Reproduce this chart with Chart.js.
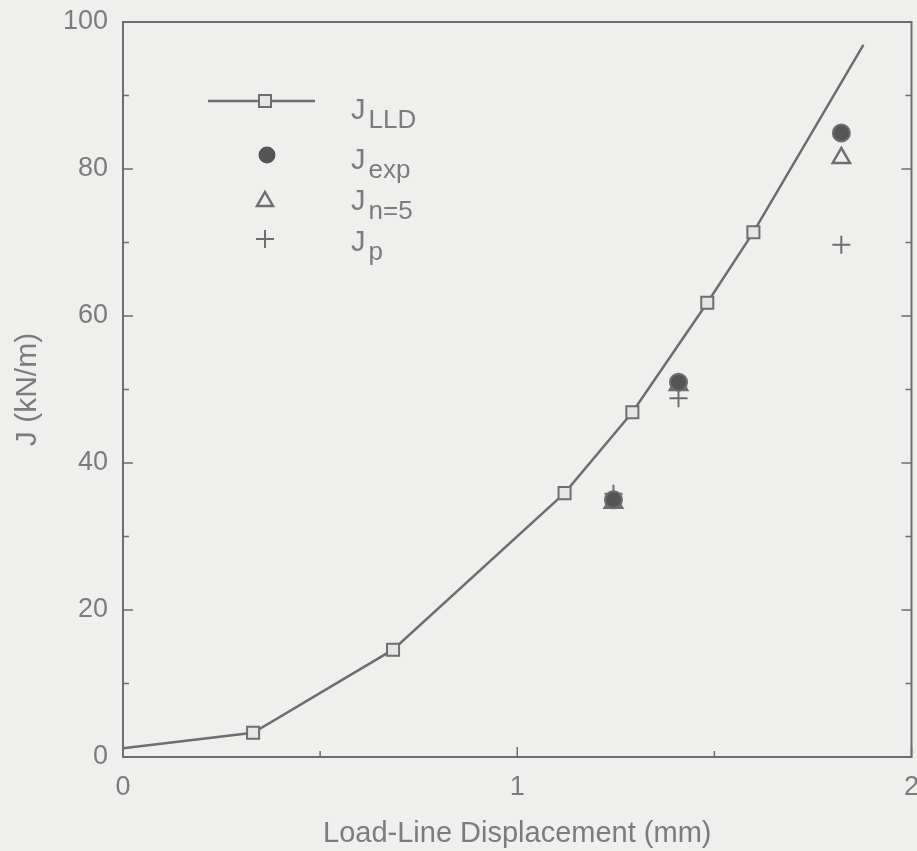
<!DOCTYPE html>
<html>
<head>
<meta charset="utf-8">
<script src="https://cdn.jsdelivr.net/npm/chart.js@4/dist/chart.umd.min.js"></script>
<style>
    html, body { margin: 0; padding: 0; background: #efefed; overflow: hidden; }
    #page { width: 917px; height: 851px; overflow: hidden; }
    #wrap { width: 924px; height: 851px; position: relative; }
    #chart { display: block; }
</style>
</head>
<body>
<div id="page"><div id="wrap"><canvas id="chart"></canvas></div></div>
<script>
// J_LLD curve (load-line displacement in mm, J in kN/m)
const dispLLD = [0, 0.33, 0.685, 1.12, 1.292, 1.482, 1.599, 1.878];
const jLLD = [1.2, 3.3, 14.6, 35.9, 46.9, 61.8, 71.4, 96.9];

// measured / estimated points
const dispPoints = [1.244, 1.409, 1.822];
const jExp = [35.0, 51.0, 84.9];
const jN5 = [34.6, 50.6, 81.5];
const jP = [35.8, 48.8, 69.7];

const xTickLabels = ["0", "1", "2"];
const yTickLabels = ["0", "20", "40", "60", "80", "100"];

const ink = "#6e6e6e";
const textInk = "#7c7c7c";
const fontFamily = "'Liberation Sans', Arial, sans-serif";

function toPoints(xs, ys) {
    return xs.map((x, i) => ({ x: x, y: ys[i] }));
}

// inward ticks, frame box and the legend drawn over the plot
const framePlugin = {
    id: "frame",
    afterDraw(chart) {
        const ctx = chart.ctx;
        const area = chart.chartArea;
        const xs = chart.scales.x;
        const ys = chart.scales.y;

        ctx.save();
        ctx.strokeStyle = ink;
        ctx.lineWidth = 2;
        ctx.strokeRect(area.left, area.top, area.right - area.left, area.bottom - area.top);

        ctx.lineWidth = 1.5;
        xs.ticks.forEach(t => {
            let px = xs.getPixelForValue(t.value);
            let len = Number.isInteger(t.value) ? 10 : 6;
            ctx.beginPath();
            ctx.moveTo(px, area.bottom);
            ctx.lineTo(px, area.bottom - len);
            ctx.stroke();
        });
        ys.ticks.forEach(t => {
            let py = ys.getPixelForValue(t.value);
            let len = t.value % 20 === 0 ? 10 : 6;
            ctx.beginPath();
            ctx.moveTo(area.left, py);
            ctx.lineTo(area.left + len, py);
            ctx.moveTo(area.right, py);
            ctx.lineTo(area.right - len, py);
            ctx.stroke();
        });

        // legend
        const mx = 265;
        ctx.lineWidth = 2.5;
        ctx.beginPath();
        ctx.moveTo(208, 101);
        ctx.lineTo(315, 101);
        ctx.stroke();
        ctx.fillStyle = "#e6e6e4";
        ctx.lineWidth = 2;
        ctx.fillRect(mx - 6, 95, 12, 12);
        ctx.strokeRect(mx - 6, 95, 12, 12);

        ctx.fillStyle = "#555";
        ctx.beginPath();
        ctx.arc(mx + 2, 155, 8.5, 0, Math.PI * 2);
        ctx.fill();

        ctx.lineWidth = 2.5;
        ctx.beginPath();
        ctx.moveTo(mx, 192);
        ctx.lineTo(mx + 8, 206);
        ctx.lineTo(mx - 8, 206);
        ctx.closePath();
        ctx.stroke();

        ctx.lineWidth = 2;
        ctx.beginPath();
        ctx.moveTo(mx - 9, 239);
        ctx.lineTo(mx + 9, 239);
        ctx.moveTo(mx, 230);
        ctx.lineTo(mx, 248);
        ctx.stroke();

        const rows = [["LLD", 119], ["exp", 169], ["n=5", 210], ["p", 251]];
        ctx.fillStyle = textInk;
        ctx.textBaseline = "alphabetic";
        ctx.textAlign = "left";
        rows.forEach(r => {
            ctx.font = "29px " + fontFamily;
            ctx.fillText("J", 351, r[1]);
            let w = ctx.measureText("J").width;
            ctx.font = "26px " + fontFamily;
            ctx.fillText(r[0], 351 + w + 3, r[1] + 9);
        });
        ctx.restore();
    }
};

const pointStyleOpts = {
    borderColor: ink,
    borderWidth: 2,
    showLine: false
};

new Chart(document.getElementById("chart"), {
    type: "scatter",
    data: {
        datasets: [
            {
                label: "J LLD",
                data: toPoints(dispLLD, jLLD),
                showLine: true,
                borderColor: ink,
                borderWidth: 2.5,
                backgroundColor: "#e6e6e4",
                pointStyle: "rect",
                pointRadius: ctx => (ctx.dataIndex === 0 || ctx.dataIndex === dispLLD.length - 1) ? 0 : 8.5,
                pointBorderWidth: 2,
                tension: 0
            },
            Object.assign({
                label: "J exp",
                data: toPoints(dispPoints, jExp),
                pointStyle: "circle",
                pointRadius: 8.5,
                backgroundColor: "#555"
            }, pointStyleOpts),
            Object.assign({
                label: "J n=5",
                data: toPoints(dispPoints, jN5),
                pointStyle: "triangle",
                pointRadius: 10,
                backgroundColor: "rgba(0,0,0,0)"
            }, pointStyleOpts, { borderWidth: 2.5 }),
            Object.assign({
                label: "J p",
                data: toPoints(dispPoints, jP),
                pointStyle: "cross",
                pointRadius: 9,
                backgroundColor: "rgba(0,0,0,0)"
            }, pointStyleOpts)
        ]
    },
    options: {
        responsive: true,
        maintainAspectRatio: false,
        animation: false,
        layout: { padding: { top: 22, right: 6, left: 0, bottom: 0 } },
        plugins: {
            legend: { display: false },
            tooltip: { enabled: false }
        },
        scales: {
            x: {
                type: "linear",
                min: 0,
                max: 2,
                grid: { display: false },
                border: { display: false },
                ticks: {
                    stepSize: 0.5,
                    padding: 6,
                    color: textInk,
                    font: { family: fontFamily, size: 27 },
                    autoSkip: false,
                    maxRotation: 0,
                    callback: v => Number.isInteger(v) ? xTickLabels[v] : ""
                },
                title: {
                    display: true,
                    text: "Load-Line Displacement (mm)",
                    color: textInk,
                    font: { family: fontFamily, size: 29 },
                    padding: { top: 2, bottom: 0 }
                },
                afterFit: scale => {
                    scale.height = 94;
                    scale.paddingLeft = 0;
                    scale.paddingRight = 0;
                }
            },
            y: {
                min: 0,
                max: 100,
                grid: { display: false },
                border: { display: false },
                ticks: {
                    stepSize: 10,
                    padding: 7,
                    color: textInk,
                    font: { family: fontFamily, size: 27 },
                    autoSkip: false,
                    callback: v => v % 20 === 0 ? yTickLabels[v / 20] : ""
                },
                title: {
                    display: true,
                    text: "J (kN/m)",
                    color: textInk,
                    font: { family: fontFamily, size: 30 },
                    padding: { top: 10, bottom: 0 }
                },
                afterFit: scale => {
                    scale.width = 123;
                    scale.paddingTop = 0;
                    scale.paddingBottom = 0;
                }
            }
        }
    },
    plugins: [framePlugin]
});
</script>
</body>
</html>
